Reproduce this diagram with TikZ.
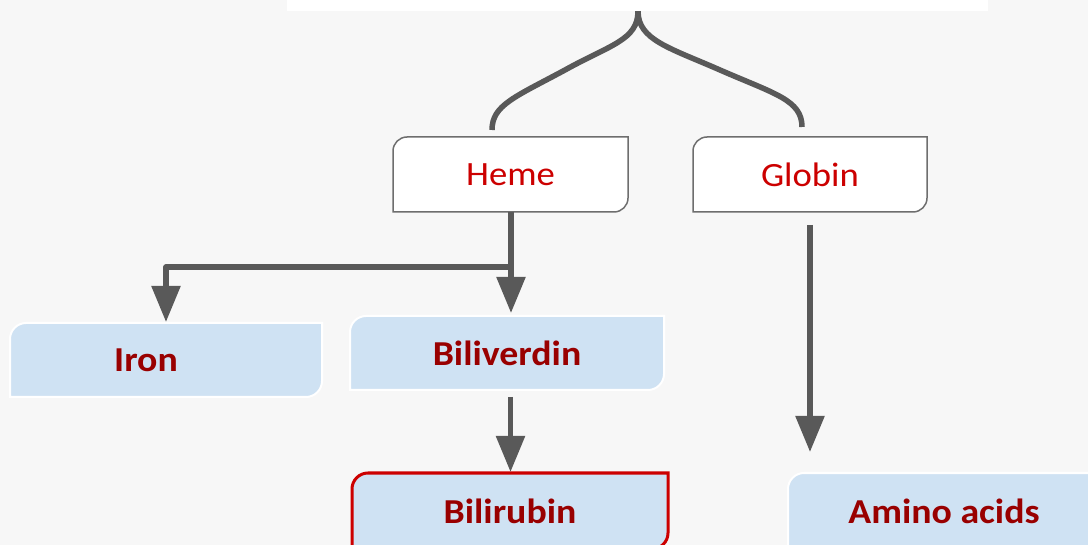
\documentclass[tikz,border=0pt]{standalone}
\usepackage{fontspec}
\setmainfont{Carlito}[FakeStretch=1.08]
\usetikzlibrary{arrows.meta,calc,backgrounds}
\definecolor{bg}{HTML}{F7F7F7}
\definecolor{linegray}{HTML}{595959}
\definecolor{boxgray}{HTML}{6E6E6E}
\definecolor{lblue}{HTML}{CFE2F3}
\definecolor{hred}{HTML}{CC0000}
\definecolor{dred}{HTML}{990000}
\newcommand\twocornerbox[3]{%
  \path[#1] ($(#2.north west)+(0,#3)$) .. controls ($(#2.north west)+(0,0.45*#3)$) and ($(#2.north west)+(0.45*#3,0)$) .. ($(#2.north west)+(#3,0)$)
    -- (#2.north east) -- ($(#2.south east)+(0,-#3)$) .. controls ($(#2.south east)+(0,-0.45*#3)$) and ($(#2.south east)+(-0.45*#3,0)$) .. ($(#2.south east)+(-#3,0)$)
    -- (#2.south west) -- cycle;}
\tikzset{
  lbl/.style={inner sep=0pt, outer sep=0pt, font=\fontsize{34}{38}\selectfont, text=hred},
  blbl/.style={inner sep=0pt, outer sep=0pt, font=\fontsize{35}{40}\selectfont\bfseries, text=dred},
  whitebox/.style={fill=white, draw=boxgray, line width=1.5pt},
  bluebox/.style={fill=lblue, draw=white, line width=2pt},
  redbox/.style={fill=lblue, draw=hred, line width=3pt},
  conn/.style={draw=linegray, line width=5.5pt, line join=round},
  arr/.style={conn, -{Triangle[width=28pt,length=36pt]}},
}
\begin{document}
\begin{tikzpicture}[x=1pt,y=-1pt]
\useasboundingbox (0,0) rectangle (1088,545);
\clip (0,0) rectangle (1088,545);
% nodes
\node[inner sep=0pt, minimum width=701pt, minimum height=61pt] (top) at (637.5,-19.5) {};
\node[lbl, minimum width=235pt, minimum height=75pt] (heme) at (510.5,174.5) {\raisebox{-2pt}{Heme}};
\node[lbl, minimum width=234pt, minimum height=75pt] (globin) at (810,174.5) {\raisebox{-2pt}{Globin}};
\node[blbl, minimum width=312pt, minimum height=74pt] (iron) at (166,360) {\raisebox{-2pt}{Iron}\hspace*{40pt}};
\node[blbl, minimum width=314pt, minimum height=74pt] (biliv) at (507,353) {\raisebox{-2pt}{Biliverdin}};
\node[blbl, minimum width=316pt, minimum height=76pt] (bilir) at (510,511) {\raisebox{-2pt}{Bilirubin}};
\node[blbl, minimum width=312pt, minimum height=76pt] (amino) at (944,511) {\raisebox{-2pt}{Amino acids}};
\coordinate (bl) at (492,130);
\coordinate (br) at (802,127);
\coordinate (j) at (511,267);
\begin{scope}[on background layer]
  \fill[bg] (0,0) rectangle (1088,545);
  \fill[white] (top.north west) rectangle (top.south east);
  \twocornerbox{whitebox}{heme}{14}
  \twocornerbox{whitebox}{globin}{14}
  \twocornerbox{bluebox}{iron}{16}
  \twocornerbox{bluebox}{biliv}{16}
  \twocornerbox{redbox}{bilir}{16}
  \twocornerbox{bluebox}{amino}{16}
\end{scope}
% brace
\draw[conn] (top.south -| 638,0) .. controls (638,40) and (610,45) .. (565,70) .. controls (515,97) and (492,105) .. (bl);
\draw[conn] (top.south -| 638,0) .. controls (638,40) and (670,48) .. (720,70) .. controls (775,94) and (802,100) .. (br);
% connectors
\draw[arr, shorten >=3pt] (heme.south -| j) -- (biliv.north -| j);
\draw[arr, shorten >=1pt] (j) -| (iron.north);
\draw[arr, shorten <=7pt, shorten >=1pt] (biliv.south -| 510.5,0) -- (bilir.north -| 510.5,0);
\draw[arr, shorten <=13pt, shorten >=21pt] (globin.south) -- (amino.north -| globin.south);
\end{tikzpicture}
\end{document}
